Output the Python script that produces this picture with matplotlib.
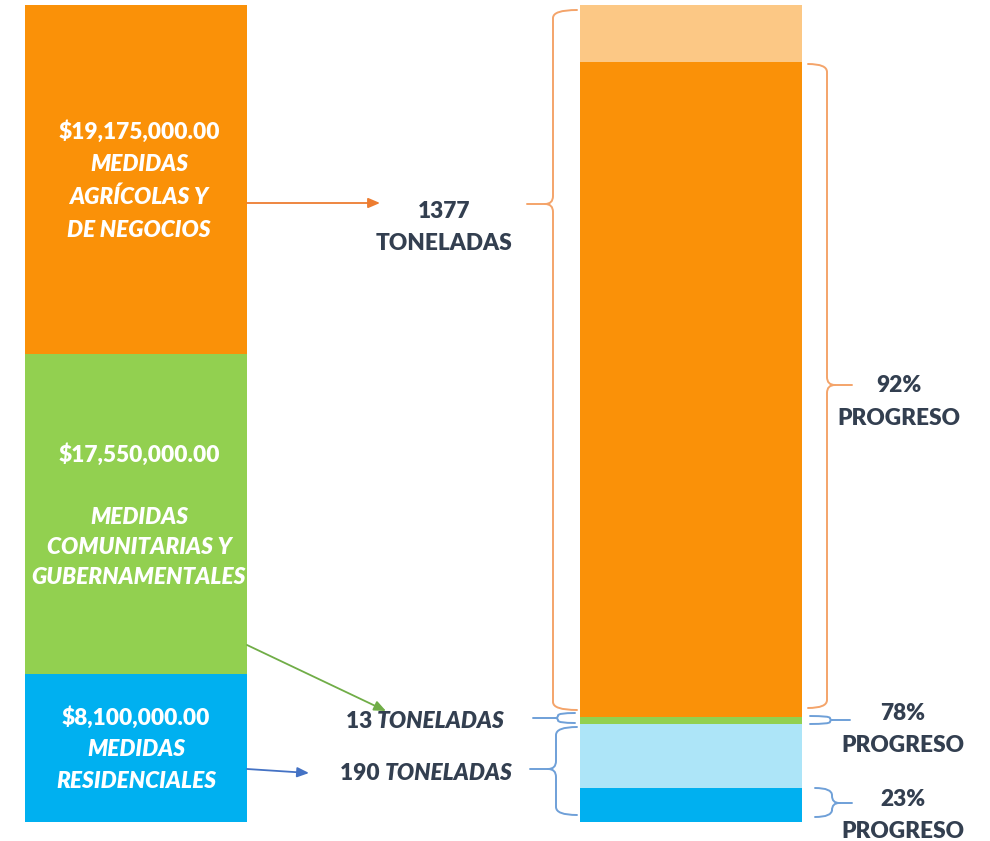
import matplotlib.pyplot as plt
from matplotlib.path import Path
from matplotlib.patches import PathPatch

plt.rcParams['font.family'] = ['Lato', 'DejaVu Sans']

# left bar: investment in millions of dollars (bottom-up: residential, community, agri/business)
sectors = ['residenciales', 'comunitarias', 'agricolas']
dollars = [8.1, 17.55, 19.175]
# right bar: tonnes total per sector and part already achieved
tons = [190, 13, 1377]
tons_done = [66, 13, 1267]

c_dark = ['#00B0F0', '#92D050', '#FA9108']
c_light = ['#ADE5F8', '#92D050', '#FCC885']
txt_dark = '#333F50'
brace_orange = '#F4A46A'
brace_blue = '#6FA0D8'
FS = 16.3
WT = 'heavy'

W, H = 990, 841
fig = plt.figure(figsize=(W / 100, H / 100), dpi=100)

# bar axes: bottom at px 822, top at px 5
bot, top = 822, 5
rect = [0, (H - bot) / H, 1, (bot - top) / H]
ax1 = fig.add_axes(rect)
ax2 = fig.add_axes(rect)
for a in (ax1, ax2):
    a.set_xlim(0, W)
    a.axis('off')
    a.patch.set_alpha(0)
ax1.set_ylim(0, sum(dollars))
ax2.set_ylim(0, sum(tons))

b = 0
for v, c in zip(dollars, c_dark):
    ax1.bar(136, v, width=222, bottom=b, color=c, edgecolor='none')
    b += v

b = 0
for t, d, cd, cl in zip(tons, tons_done, c_dark, c_light):
    ax2.bar(691, d, width=222, bottom=b, color=cd, edgecolor='none')
    if t - d > 0:
        ax2.bar(691, t - d, width=222, bottom=b + d, color=cl, edgecolor='none')
    b += t

# overlay in pixel coords for labels, arrows, braces
ov = fig.add_axes([0, 0, 1, 1])
ov.set_xlim(0, W)
ov.set_ylim(H, 0)
ov.axis('off')
ov.patch.set_alpha(0)

def label(x, y, s, color='white', style='normal', ha='center'):
    ov.text(x, y, s, ha=ha, va='center', color=color, fontsize=FS,
            fontweight=WT, style=style)

# left bar texts
label(139, 132, '$19,175,000.00')
label(139, 164, 'MEDIDAS', style='italic')
label(139, 197, 'AGRÍCOLAS Y', style='italic')
label(139, 230, 'DE NEGOCIOS', style='italic')
label(139, 455, '$17,550,000.00')
label(139, 518, 'MEDIDAS', style='italic')
label(139, 548, 'COMUNITARIAS Y', style='italic')
label(139, 578, 'GUBERNAMENTALES', style='italic')
label(136, 718, '$8,100,000.00')
label(136, 750, 'MEDIDAS', style='italic')
label(136, 782, 'RESIDENCIALES', style='italic')

# middle texts
label(444, 211, '1377', color=txt_dark)
label(444, 243, 'TONELADAS', color=txt_dark)
label(377, 722, '13 ', color=txt_dark, ha='right')
label(377, 722, 'TONELADAS', color=txt_dark, style='italic', ha='left')
label(385, 773, '190 ', color=txt_dark, ha='right')
label(385, 773, 'TONELADAS', color=txt_dark, style='italic', ha='left')

# right texts
label(899, 385, '92%', color=txt_dark)
label(899, 418, 'PROGRESO', color=txt_dark)
label(903, 714, '78%', color=txt_dark)
label(903, 746, 'PROGRESO', color=txt_dark)
label(903, 799, '23%', color=txt_dark)
label(903, 831, 'PROGRESO', color=txt_dark)

# arrows
for (x0, y0, x1, y1, c) in [(247, 203, 380, 203, '#ED7D31'),
                            (247, 645, 386, 711, '#70AD47'),
                            (247, 769, 309, 773, '#4472C4')]:
    ov.annotate('', xy=(x1, y1), xytext=(x0, y0),
                arrowprops=dict(arrowstyle='-|>,head_length=0.7,head_width=0.3',
                                color=c, lw=1.3, shrinkA=0, shrinkB=0))

def brace(xr, xs, xt, y0, y1, ym, color):
    r = min(8, (y1 - y0) / 4)
    sgn = 1 if xt > xs else -1
    verts = [(xr, y0), (xs, y0), (xs, y0 + r),
             (xs, ym - r), (xs, ym), (xs + sgn * r, ym),
             (xt, ym),
             (xs + sgn * r, ym), (xs, ym), (xs, ym + r),
             (xs, y1 - r), (xs, y1), (xr, y1)]
    codes = [Path.MOVETO, Path.CURVE3, Path.CURVE3,
             Path.LINETO, Path.CURVE3, Path.CURVE3,
             Path.LINETO,
             Path.MOVETO, Path.CURVE3, Path.CURVE3,
             Path.LINETO, Path.CURVE3, Path.CURVE3]
    ov.add_patch(PathPatch(Path(verts, codes), fill=False, edgecolor=color,
                           lw=1.4, capstyle='round', joinstyle='round'))

brace(577, 553, 527, 10, 710, 204, brace_orange)
brace(808, 827, 852, 64, 708, 385, brace_orange)
brace(575, 558, 533, 713, 723, 718, brace_blue)
brace(577, 556, 530, 727, 815, 769, brace_blue)
brace(810, 830, 850, 716, 724, 720, brace_blue)
brace(815, 832, 852, 788, 817, 803, brace_blue)

fig.savefig('out.png', dpi=100)
